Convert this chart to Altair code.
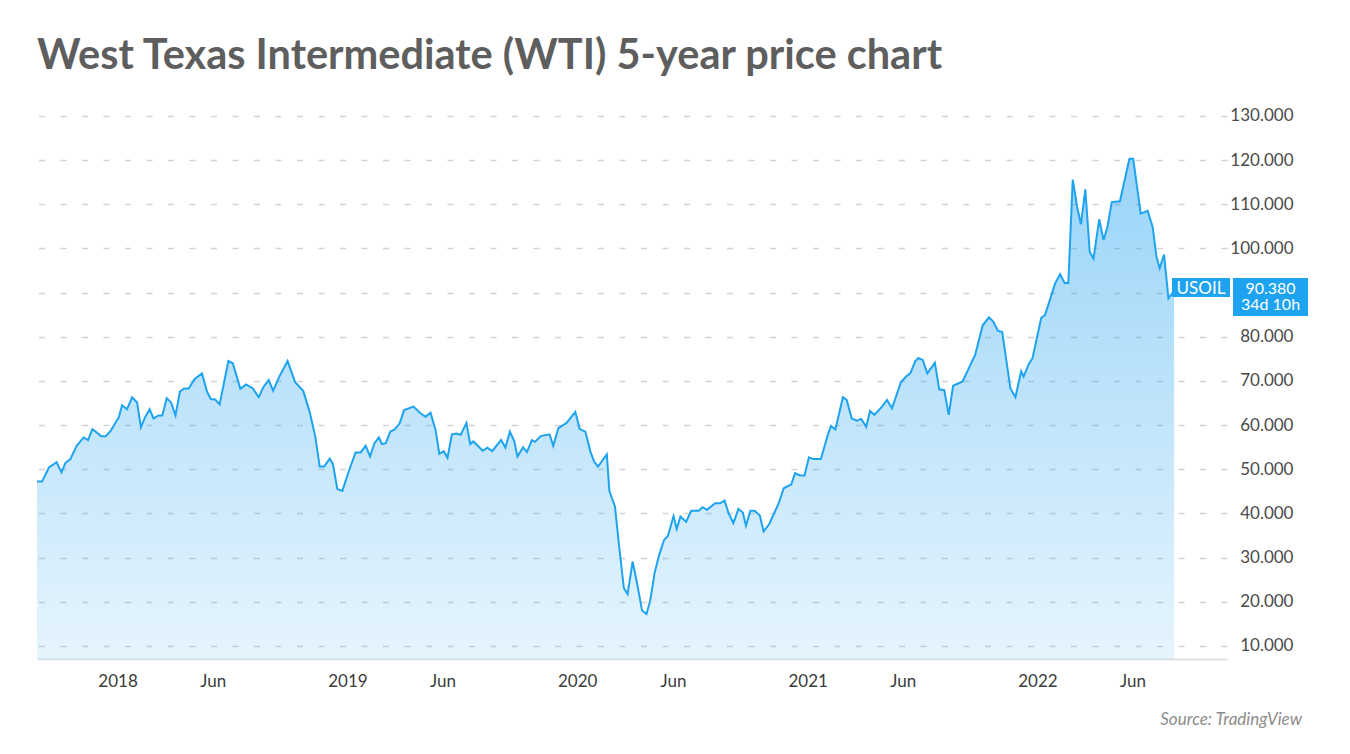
import altair as alt
import pandas as pd

# ---------------- data ----------------
dates = [
    "2017-08-26", "2017-09-03", "2017-09-14", "2017-09-26", "2017-10-04", "2017-10-10",
    "2017-10-18", "2017-10-28", "2017-11-08", "2017-11-15", "2017-11-22", "2017-12-06",
    "2017-12-13", "2017-12-21", "2018-01-03", "2018-01-08", "2018-01-16", "2018-01-24",
    "2018-02-01", "2018-02-07", "2018-02-14", "2018-02-21", "2018-02-27", "2018-03-07",
    "2018-03-13", "2018-03-20", "2018-03-27", "2018-04-03", "2018-04-10", "2018-04-17",
    "2018-04-24", "2018-05-03", "2018-05-15", "2018-05-23", "2018-05-29", "2018-06-05",
    "2018-06-12", "2018-06-26", "2018-07-03", "2018-07-15", "2018-07-24", "2018-08-04",
    "2018-08-13", "2018-08-21", "2018-08-29", "2018-09-05", "2018-09-16", "2018-09-28",
    "2018-10-10", "2018-10-23", "2018-11-02", "2018-11-11", "2018-11-18", "2018-11-25",
    "2018-12-04", "2018-12-09", "2018-12-16", "2018-12-24", "2019-01-03", "2019-01-14",
    "2019-01-22", "2019-01-30", "2019-02-06", "2019-02-13", "2019-02-20", "2019-02-25",
    "2019-03-03", "2019-03-10", "2019-03-17", "2019-03-25", "2019-04-01", "2019-04-16",
    "2019-04-26", "2019-05-05", "2019-05-13", "2019-05-21", "2019-05-27", "2019-06-03",
    "2019-06-09", "2019-06-16", "2019-06-23", "2019-06-30", "2019-07-09", "2019-07-15",
    "2019-07-20", "2019-08-04", "2019-08-11", "2019-08-19", "2019-09-02", "2019-09-09",
    "2019-09-16", "2019-09-23", "2019-09-28", "2019-10-07", "2019-10-13", "2019-10-21",
    "2019-10-26", "2019-11-04", "2019-11-18", "2019-11-24", "2019-12-02", "2019-12-15",
    "2019-12-29", "2020-01-05", "2020-01-14", "2020-01-22", "2020-01-28", "2020-02-03",
    "2020-02-17", "2020-02-21", "2020-03-01", "2020-03-07", "2020-03-15", "2020-03-21",
    "2020-03-29", "2020-04-05", "2020-04-13", "2020-04-20", "2020-04-26", "2020-05-03",
    "2020-05-10", "2020-05-18", "2020-05-24", "2020-06-02", "2020-06-07", "2020-06-13",
    "2020-06-22", "2020-06-30", "2020-07-12", "2020-07-18", "2020-07-25", "2020-08-07",
    "2020-08-15", "2020-08-22", "2020-08-28", "2020-09-05", "2020-09-13", "2020-09-20",
    "2020-09-25", "2020-10-02", "2020-10-09", "2020-10-17", "2020-10-23", "2020-11-01",
    "2020-11-16", "2020-11-24", "2020-12-06", "2020-12-12", "2020-12-20", "2020-12-27",
    "2021-01-03", "2021-01-10", "2021-01-22", "2021-02-02", "2021-02-07", "2021-02-14",
    "2021-02-26", "2021-03-04", "2021-03-12", "2021-03-20", "2021-03-27", "2021-04-04",
    "2021-04-10", "2021-04-17", "2021-04-29", "2021-05-07", "2021-05-15", "2021-05-29",
    "2021-06-07", "2021-06-13", "2021-06-21", "2021-06-26", "2021-07-03", "2021-07-10",
    "2021-07-22", "2021-07-29", "2021-08-06", "2021-08-13", "2021-08-20", "2021-09-04",
    "2021-09-24", "2021-10-06", "2021-10-16", "2021-10-23", "2021-10-30", "2021-11-06",
    "2021-11-19", "2021-11-27", "2021-12-06", "2021-12-10", "2021-12-18", "2021-12-24",
    "2022-01-07", "2022-01-13", "2022-01-29", "2022-02-06", "2022-02-13", "2022-02-19",
    "2022-02-26", "2022-03-05", "2022-03-11", "2022-03-18", "2022-03-25", "2022-03-31",
    "2022-04-09", "2022-04-16", "2022-04-22", "2022-04-29", "2022-05-12", "2022-05-27",
    "2022-06-02", "2022-06-14", "2022-06-25", "2022-07-03", "2022-07-09", "2022-07-14",
    "2022-07-21", "2022-07-28", "2022-08-06",
]

prices = [
    47.2, 47.2, 50.4, 51.6, 49.3, 51.4,
    52.3, 55.3, 57.2, 56.6, 59.1, 57.5,
    57.5, 58.7, 61.8, 64.5, 63.6, 66.3,
    65.1, 59.5, 61.9, 63.6, 61.5, 62.2,
    62.2, 66.1, 65.1, 62.2, 67.6, 68.3,
    68.3, 70.4, 71.7, 67.6, 65.9, 65.8,
    64.7, 74.5, 74.0, 68.2, 69.2, 68.3,
    66.3, 68.7, 70.2, 67.8, 71.3, 74.5,
    69.7, 67.7, 63.0, 57.4, 50.6, 50.6,
    52.4, 51.2, 45.5, 45.1, 49.5, 53.8,
    53.8, 55.3, 52.9, 55.9, 57.2, 55.7,
    55.9, 58.5, 59.0, 60.4, 63.4, 64.2,
    62.8, 61.9, 62.8, 58.9, 53.5, 54.1,
    52.6, 57.9, 58.1, 57.8, 60.5, 55.7,
    56.3, 54.2, 54.9, 54.1, 56.6, 54.9,
    58.5, 56.4, 52.9, 55.0, 53.9, 56.6,
    56.2, 57.5, 57.9, 55.3, 59.3, 60.5,
    63.0, 59.1, 58.5, 54.0, 51.7, 50.6,
    53.4, 45.1, 41.5, 33.3, 23.1, 21.7,
    29.1, 24.2, 18.0, 17.2, 20.3, 26.6,
    30.5, 34.0, 34.9, 39.4, 36.5, 39.3,
    38.1, 40.6, 40.6, 41.4, 40.8, 42.3,
    42.3, 42.9, 40.2, 37.8, 41.0, 40.2,
    37.2, 40.6, 40.6, 39.5, 35.9, 37.6,
    42.3, 45.7, 46.6, 49.1, 48.6, 48.6,
    52.7, 52.3, 52.3, 57.8, 59.8, 59.0,
    66.3, 65.7, 61.5, 61.0, 61.4, 59.6,
    63.2, 62.3, 64.2, 65.7, 63.8, 69.7,
    71.1, 71.7, 74.5, 75.2, 74.7, 71.7,
    74.1, 68.1, 67.9, 62.3, 68.9, 69.9,
    75.9, 82.6, 84.4, 83.4, 81.4, 81.1,
    68.3, 66.3, 72.2, 71.0, 73.8, 75.1,
    84.3, 84.9, 92.1, 94.2, 92.2, 92.2,
    115.6, 109.4, 105.5, 113.4, 99.2, 97.7,
    106.6, 101.9, 104.8, 110.5, 110.7, 120.3,
    120.3, 107.9, 108.5, 104.8, 98.1, 95.5,
    98.6, 88.7, 90.38,
]

y_ticks = [10, 20, 30, 40, 50, 60, 70, 80, 90, 100, 110, 120, 130]
hidden_tick = 90  # its label sits under the last-price box in the reference
x_tick_dates = [
    (2018, 1), (2018, 6), (2019, 1), (2019, 6), (2020, 1),
    (2020, 6), (2021, 1), (2021, 6), (2022, 1), (2022, 6),
]
x_domain = [(2017, 8, 26), (2022, 10, 29)]
y_domain = [7.03, 133.62]

title_text = "West Texas Intermediate (WTI) 5-year price chart"
source_text = "Source: TradingView"
symbol_text = "USOIL"
last_price_text = "90.380"
countdown_text = "34d 10h"

# ---------------- styling ----------------
FONT = "Lato"
BLUE = "#1ea3f0"
W, H = 1190, 559

df = pd.DataFrame({"date": pd.to_datetime(dates), "price": prices})

x_enc = alt.X(
    "date:T",
    scale=alt.Scale(domain=[alt.DateTime(year=y, month=m, date=d) for (y, m, d) in x_domain]),
    axis=alt.Axis(
        values=[alt.DateTime(year=y, month=m, date=1) for (y, m) in x_tick_dates],
        labelExpr="month(datum.value) == 0 ? timeFormat(datum.value, '%Y') : 'Jun'",
        grid=False, ticks=False,
        domainColor="#dfe3e8", domainWidth=2,
        labelFont=FONT, labelFontSize=17, labelColor="#3c3c3c",
        labelPadding=14, title=None,
    ),
)
y_enc = alt.Y(
    "price:Q",
    scale=alt.Scale(domain=y_domain, zero=False, nice=False),
    axis=alt.Axis(
        orient="right", values=y_ticks,
        labelExpr=f"datum.value == {hidden_tick} ? '' : format(datum.value, '.3f')",
        labelAlign="right", labelPadding=66,
        labelFont=FONT, labelFontSize=17, labelColor="#4a4a4a",
        domain=False, ticks=False,
        grid=True, gridColor="#d4d4d4", gridDash=[6, 15.5], gridWidth=1.5,
        title=None,
    ),
)

area = alt.Chart(df).mark_area(
    clip=True,
    color=alt.Gradient(
        gradient="linear", x1=0, y1=0, x2=0, y2=1,
        stops=[
            alt.GradientStop(color="rgba(30,160,240,0.45)", offset=0),
            alt.GradientStop(color="rgba(30,160,240,0.09)", offset=1),
        ],
    ),
).encode(x=x_enc, y=y_enc)

line = alt.Chart(df).mark_line(color=BLUE, strokeWidth=2).encode(x="date:T", y="price:Q")

title = alt.Chart(pd.DataFrame({"t": [title_text]})).mark_text(
    align="left", baseline="alphabetic", font=FONT, fontSize=41.5,
    fontWeight="bold", color="#5e5e5e",
).encode(text="t:N", x=alt.value(0), y=alt.value(-31))

source = alt.Chart(pd.DataFrame({"t": [source_text]})).mark_text(
    align="right", baseline="alphabetic", font=FONT, fontSize=17,
    fontStyle="italic", color="#8c8c8c",
).encode(text="t:N", x=alt.value(1265), y=alt.value(625))

box_sym = alt.Chart(pd.DataFrame({"k": [0]})).mark_rect(color=BLUE).encode(
    x=alt.value(1135), x2=alt.value(1193), y=alt.value(178), y2=alt.value(197)
)
box_val = alt.Chart(pd.DataFrame({"k": [0]})).mark_rect(color=BLUE).encode(
    x=alt.value(1196), x2=alt.value(1271), y=alt.value(178), y2=alt.value(216)
)
txt_sym = alt.Chart(pd.DataFrame({"t": [symbol_text]})).mark_text(
    align="center", baseline="alphabetic", font=FONT, fontSize=17, color="white"
).encode(text="t:N", x=alt.value(1164), y=alt.value(194))
txt_val = alt.Chart(pd.DataFrame({"t": [last_price_text]})).mark_text(
    align="center", baseline="alphabetic", font=FONT, fontSize=16, color="white"
).encode(text="t:N", x=alt.value(1233.5), y=alt.value(193.5))
txt_cd = alt.Chart(pd.DataFrame({"t": [countdown_text]})).mark_text(
    align="center", baseline="alphabetic", font=FONT, fontSize=16, color="white"
).encode(text="t:N", x=alt.value(1233.5), y=alt.value(210))

chart = alt.layer(
    area, line, title, source, box_sym, box_val, txt_sym, txt_val, txt_cd
).properties(
    width=W, height=H,
    autosize=alt.AutoSizeParams(type="none"),
    padding={"left": 29, "top": 92, "right": 115, "bottom": 80},
    background="white",
).configure_view(stroke=None)

chart.save("out.html", embed_options={"renderer": "svg", "actions": False})
